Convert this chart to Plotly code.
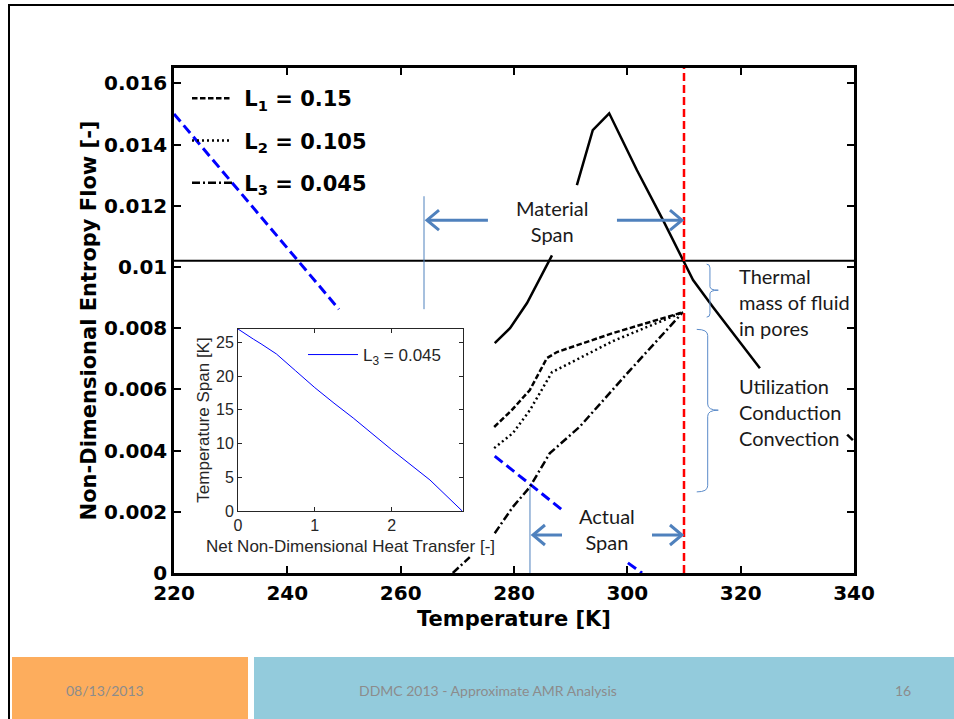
import plotly.graph_objects as go

# ---------------- data ----------------
x_tickvals = [220, 240, 260, 280, 300, 320, 340]
y_tickvals = [0, 0.002, 0.004, 0.006, 0.008, 0.010, 0.012, 0.014, 0.016]
y_ticktext = ["0", "0.002", "0.004", "0.006", "0.008", "0.01", "0.012", "0.014", "0.016"]

# blue dashed curve (visible pieces)
T_blue = [220.0, 249.1, None, 276.6, 288.5, None, 300.1, 302.6]
S_blue = [0.0150, 0.00862, None, 0.00382, 0.00206, None, 0.00033, 0.0]

# black solid curve (visible pieces)
T_solid = [276.6, 279.3, 282.3, 286.3, 286.7, None,
           291.1, 293.9, 296.8, 301.7, 306.3, 309.8, 311.6, 315.1, 318.6, 323.4, None,
           338.8, 339.8]
S_solid = [0.00751, 0.00800, 0.00882, 0.01022, 0.01038, None,
           0.01267, 0.01447, 0.01502, 0.01316, 0.01153, 0.01022, 0.00957, 0.00869, 0.00784, 0.00669, None,
           0.00452, 0.00434]

# horizontal reference line
T_hline = [220, 340]
S_hline = [0.0102, 0.0102]

# L1, L2, L3 curves
T_L1 = [276.5, 279.5, 282.8, 285.8, 287.6, 297.5, 309.8]
S_L1 = [0.00477, 0.00530, 0.00598, 0.00702, 0.00722, 0.00784, 0.00852]
T_L2 = [276.5, 279.8, 282.8, 286.7, 297.5, 309.8]
S_L2 = [0.00408, 0.00457, 0.00532, 0.00656, 0.00758, 0.00852]
T_L3 = [269.2, 272.2, None, 276.6, 279.8, 282.8, 286.3, 291.6, 300.5, 309.8]
S_L3 = [0.0, 0.00052, None, 0.00130, 0.00216, 0.00281, 0.00391, 0.00478, 0.00663, 0.00852]

# red vertical line
T_red = [310, 310]
S_red = [0.0, 0.0165]

# inset: temperature span vs net heat transfer
Q_inset = [0, 0.1, 0.2, 0.3, 0.4, 0.5, 0.75, 1.0, 1.25, 1.5, 2.0, 2.5, 2.92]
Span_inset = [27.0, 26.2, 25.5, 24.8, 24.1, 23.3, 20.8, 18.3, 16.0, 13.8, 9.1, 4.6, 0.0]

legend_names = ["&nbsp;L<sub>1</sub> = 0.15", "&nbsp;L<sub>2</sub> = 0.105", "&nbsp;L<sub>3</sub> = 0.045"]
inset_legend_name = "L<sub>3</sub> = 0.045"

footer_left = "08/13/2013"
footer_mid = "DDMC 2013 - Approximate AMR Analysis"
footer_right = "16"

# ---------------- layout helpers ----------------
W, H = 954, 719
L, R, T, B = 174, 854, 68, 573
KX = (R - L) / 120.0          # px per K
KY = (B - T) / 0.0165         # px per unit entropy


def px(xp):
    return (xp - L) / (R - L)


def py(yp):
    return (B - yp) / (B - T)


BOLD = dict(family="DejaVu Sans", size=20, color="black", weight="bold")
ARIAL = dict(family="Liberation Sans", size=16, color="#262626")
TXT = dict(family="Lato", size=20, color="#1a1a1a")
ARROW = "#4f81bd"

fig = go.Figure()

fig.add_trace(go.Scatter(x=T_blue, y=S_blue, mode="lines", showlegend=False,
                         line=dict(color="#0000ff", width=3, dash="10px,5px")))
fig.add_trace(go.Scatter(x=T_hline, y=S_hline, mode="lines", showlegend=False,
                         line=dict(color="black", width=2)))
fig.add_trace(go.Scatter(x=T_solid, y=S_solid, mode="lines", showlegend=False,
                         line=dict(color="black", width=2.5)))
fig.add_trace(go.Scatter(x=T_L1, y=S_L1, mode="lines", name=legend_names[0], legendgroup="a",
                         line=dict(color="black", width=2.5, dash="5.5px,2.5px")))
fig.add_trace(go.Scatter(x=T_L2, y=S_L2, mode="lines", name=legend_names[1], legendgroup="b",
                         line=dict(color="black", width=2.5, dash="2px,3px")))
fig.add_trace(go.Scatter(x=T_L3, y=S_L3, mode="lines", name=legend_names[2], legendgroup="c",
                         line=dict(color="black", width=2.5, dash="8px,3px,2px,3px")))
fig.add_trace(go.Scatter(x=T_red, y=S_red, mode="lines", showlegend=False,
                         line=dict(color="#ff0000", width=2.5, dash="8px,4px")))

fig.add_trace(go.Scatter(x=Q_inset, y=Span_inset, mode="lines", name=inset_legend_name,
                         xaxis="x2", yaxis="y2", legend="legend2",
                         line=dict(color="#0000ff", width=1)))

# ---------------- shapes ----------------
shapes = []
# slide frame
shapes.append(dict(type="line", xref="paper", yref="paper", x0=px(8), x1=px(954), y0=py(5), y1=py(5),
                   line=dict(color="black", width=2)))
shapes.append(dict(type="line", xref="paper", yref="paper", x0=px(9), x1=px(9), y0=py(5), y1=py(719),
                   line=dict(color="black", width=2)))
# footer
shapes.append(dict(type="rect", xref="paper", yref="paper", x0=px(12), x1=px(248), y0=py(657), y1=py(719),
                   fillcolor="#fdad5d", line=dict(width=0)))
shapes.append(dict(type="rect", xref="paper", yref="paper", x0=px(254), x1=px(954), y0=py(657), y1=py(719),
                   fillcolor="#93cbdc", line=dict(width=0)))
# thin blue span markers
shapes.append(dict(type="line", xref="x", yref="y", x0=264.12, x1=264.12, y0=0.00862, y1=0.01231,
                   line=dict(color=ARROW, width=1)))
shapes.append(dict(type="line", xref="x", yref="y", x0=282.82, x1=282.82, y0=0.0, y1=0.00281,
                   line=dict(color=ARROW, width=1)))


def arrow_shapes(x_tail, x_head, yv):
    s = 1 if x_head > x_tail else -1
    hx = 12.0 / KX
    hy = 10.0 / KY
    tip = x_head - s * 1.0 / KX
    return [
        dict(type="line", xref="x", yref="y", x0=x_tail, x1=tip, y0=yv, y1=yv,
             line=dict(color=ARROW, width=3)),
        dict(type="path", xref="x", yref="y",
             path=f"M{tip - s * hx},{yv + hy} L{tip},{yv} L{tip - s * hx},{yv - hy}",
             line=dict(color=ARROW, width=3)),
    ]


shapes += arrow_shapes(275.4, 264.47, 0.011527)
shapes += arrow_shapes(298.17, 309.82, 0.011527)
shapes += arrow_shapes(288.47, 283.17, 0.001241)
shapes += arrow_shapes(304.35, 309.82, 0.001241)


def brace(hx, sx, tx, top, mid, bot, d):
    return (f"M{hx},{top} Q{sx},{top} {sx},{top - d} L{sx},{mid + d} "
            f"Q{sx},{mid} {tx},{mid} Q{sx},{mid} {sx},{mid - d} "
            f"L{sx},{bot + d} Q{sx},{bot} {hx},{bot}")


shapes.append(dict(type="path", xref="x", yref="y",
                   path=brace(314.0, 314.58, 316.05, 0.01009, 0.00924, 0.00836, 0.00012),
                   line=dict(color="#5b8bc9", width=1)))
shapes.append(dict(type="path", xref="x", yref="y",
                   path=brace(312.25, 314.18, 316.05, 0.00796, 0.00532, 0.00265, 0.00020),
                   line=dict(color="#5b8bc9", width=1)))

# ---------------- annotations ----------------
ann = []
ann.append(dict(x=286.88, y=0.01149, xref="x", yref="y", text="Material<br>Span", showarrow=False,
                font=TXT, align="center", xanchor="center", yanchor="middle"))
ann.append(dict(x=296.4, y=0.001453, xref="x", yref="y", text="Actual<br>Span", showarrow=False,
                font=TXT, align="center", xanchor="center", yanchor="middle"))
ann.append(dict(x=319.35, y=0.00885, xref="x", yref="y", text="Thermal<br>mass of fluid<br>in pores",
                showarrow=False, font=TXT, align="left", xanchor="left", yanchor="middle"))
ann.append(dict(x=319.35, y=0.00526, xref="x", yref="y", text="Utilization<br>Conduction<br>Convection",
                showarrow=False, font=TXT, align="left", xanchor="left", yanchor="middle"))

FOOT = dict(family="Lato", size=14, color="#8c8c8c")
for xp, txt in [(105, footer_left), (488, footer_mid), (903, footer_right)]:
    ann.append(dict(x=px(xp), y=py(690), xref="paper", yref="paper", text=txt, showarrow=False,
                    font=FOOT, xanchor="center", yanchor="middle"))

fig.update_layout(
    width=W, height=H,
    margin=dict(l=L, r=W - R, t=T, b=H - B),
    paper_bgcolor="white", plot_bgcolor="white",
    shapes=shapes, annotations=ann,
    xaxis=dict(domain=[0, 1], range=[220, 340], tickvals=x_tickvals,
               showline=True, linecolor="black", linewidth=2.5, mirror="ticks",
               ticks="inside", ticklen=7, tickwidth=2, tickcolor="black",
               showgrid=False, zeroline=False, tickfont=BOLD,
               title=dict(text="Temperature [K]", font=dict(family="DejaVu Sans", size=21, color="black",
                                                              weight="bold"), standoff=8)),
    yaxis=dict(domain=[0, 1], range=[0, 0.0165], tickvals=y_tickvals, ticktext=y_ticktext,
               showline=True, linecolor="black", linewidth=2.5, mirror="ticks",
               ticks="inside", ticklen=7, tickwidth=2, tickcolor="black",
               showgrid=False, zeroline=False, tickfont=BOLD,
               title=dict(text="Non-Dimensional Entropy Flow [-]",
                          font=dict(family="DejaVu Sans", size=21, color="black", weight="bold"), standoff=2)),
    xaxis2=dict(domain=[px(238), px(463)], anchor="y2", range=[0, 2.93], tickvals=[0, 1, 2],
                showline=True, linecolor="#262626", linewidth=1, mirror="ticks",
                ticks="inside", ticklen=4, tickcolor="#262626",
                showgrid=False, zeroline=False, tickfont=ARIAL,
                title=dict(text="Net Non-Dimensional Heat Transfer [-]",
                           font=dict(family="Liberation Sans", size=17, color="#262626"), standoff=6)),
    yaxis2=dict(domain=[py(511), py(329)], anchor="x2", range=[0, 27], tickvals=[0, 5, 10, 15, 20, 25],
                showline=True, linecolor="#262626", linewidth=1, mirror="ticks",
                ticks="inside", ticklen=4, tickcolor="#262626",
                showgrid=False, zeroline=False, tickfont=ARIAL,
                title=dict(text="Temperature Span [K]",
                           font=dict(family="Liberation Sans", size=17, color="#262626"), standoff=2)),
    legend=dict(x=px(187), y=py(78), xanchor="left", yanchor="top", bgcolor="rgba(0,0,0,0)",
                font=dict(family="DejaVu Sans", size=21, color="black", weight="bold"),
                itemwidth=40, tracegroupgap=12),
    legend2=dict(x=px(303), y=py(337), xanchor="left", yanchor="top", bgcolor="rgba(0,0,0,0)",
                 font=dict(family="Liberation Sans", size=17, color="#262626"), itemwidth=50),
)

fig.write_html("out.html", config={"displayModeBar": False},
               post_script="document.body.style.margin='0px';document.body.style.overflow='hidden';")
